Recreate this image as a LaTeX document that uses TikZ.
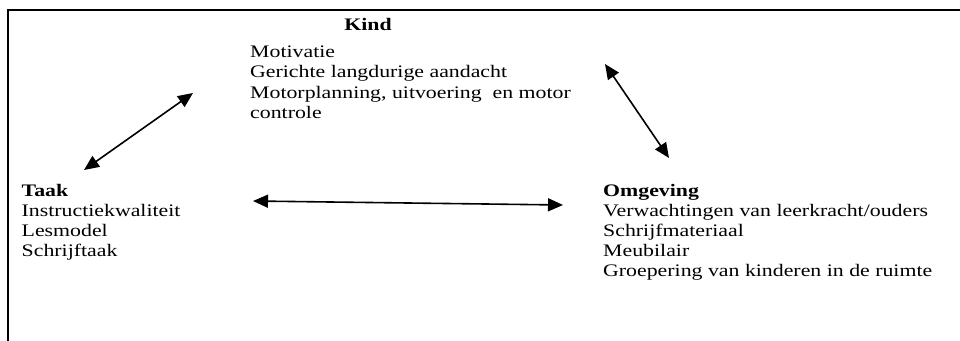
\documentclass[tikz,border=0pt]{standalone}
\usepackage{fontspec}
\setmainfont{Liberation Serif}[FakeStretch=1.24]
\usetikzlibrary{arrows.meta}
\tikzset{
  txt/.style={anchor=base west, inner sep=0pt, font=\fontsize{17.6}{20}\selectfont},
  head/.style={txt, font=\fontsize{17.6}{20}\selectfont\bfseries},
  link/.style={line width=1.6pt, {Triangle[length=15pt,width=13pt]}-{Triangle[length=15pt,width=13pt]}},
  frame/.style={line width=2pt}
}
\begin{document}
\begin{tikzpicture}[x=1pt,y=-1pt]
\useasboundingbox (0,0) rectangle (960,340);
\draw[frame] (8,341) -- (8,10) -- (961,10);
% Kind
\node[head, anchor=base] (kind) at (368,30) {Kind};
\node[txt] (k1) at (250,57) {Motivatie};
\node[txt] (k2) at (250,77.5) {Gerichte langdurige aandacht};
\node[txt] (k3) at (250,98) {Motorplanning, uitvoering\ \ en motor};
\node[txt] (k4) at (250,118.5) {controle};
% Taak
\node[head] (taak) at (21.5,196.7) {Taak};
\node[txt] (t1) at (21.5,216.7) {Instructiekwaliteit};
\node[txt] (t2) at (21.5,236.7) {Lesmodel};
\node[txt] (t3) at (21.5,256.7) {Schrijftaak};
% Omgeving
\node[head] (omg) at (603,196.7) {Omgeving};
\node[txt] (o1) at (603,216.7) {Verwachtingen van leerkracht/ouders};
\node[txt] (o2) at (603,236.7) {Schrijfmateriaal};
\node[txt] (o3) at (603,256.7) {Meubilair};
\node[txt] (o4) at (603,276.7) {Groepering van kinderen in de ruimte};
% arrows
\coordinate (a1s) at (84,170);
\coordinate (a1e) at (193,93);
\coordinate (a2s) at (605,64);
\coordinate (a2e) at (669,158);
\coordinate (a3s) at (253,201);
\coordinate (a3e) at (563,205);
\draw[link] (a1s) -- (a1e);
\draw[link] (a2s) -- (a2e);
\draw[link] (a3s) -- (a3e);
\end{tikzpicture}
\end{document}
